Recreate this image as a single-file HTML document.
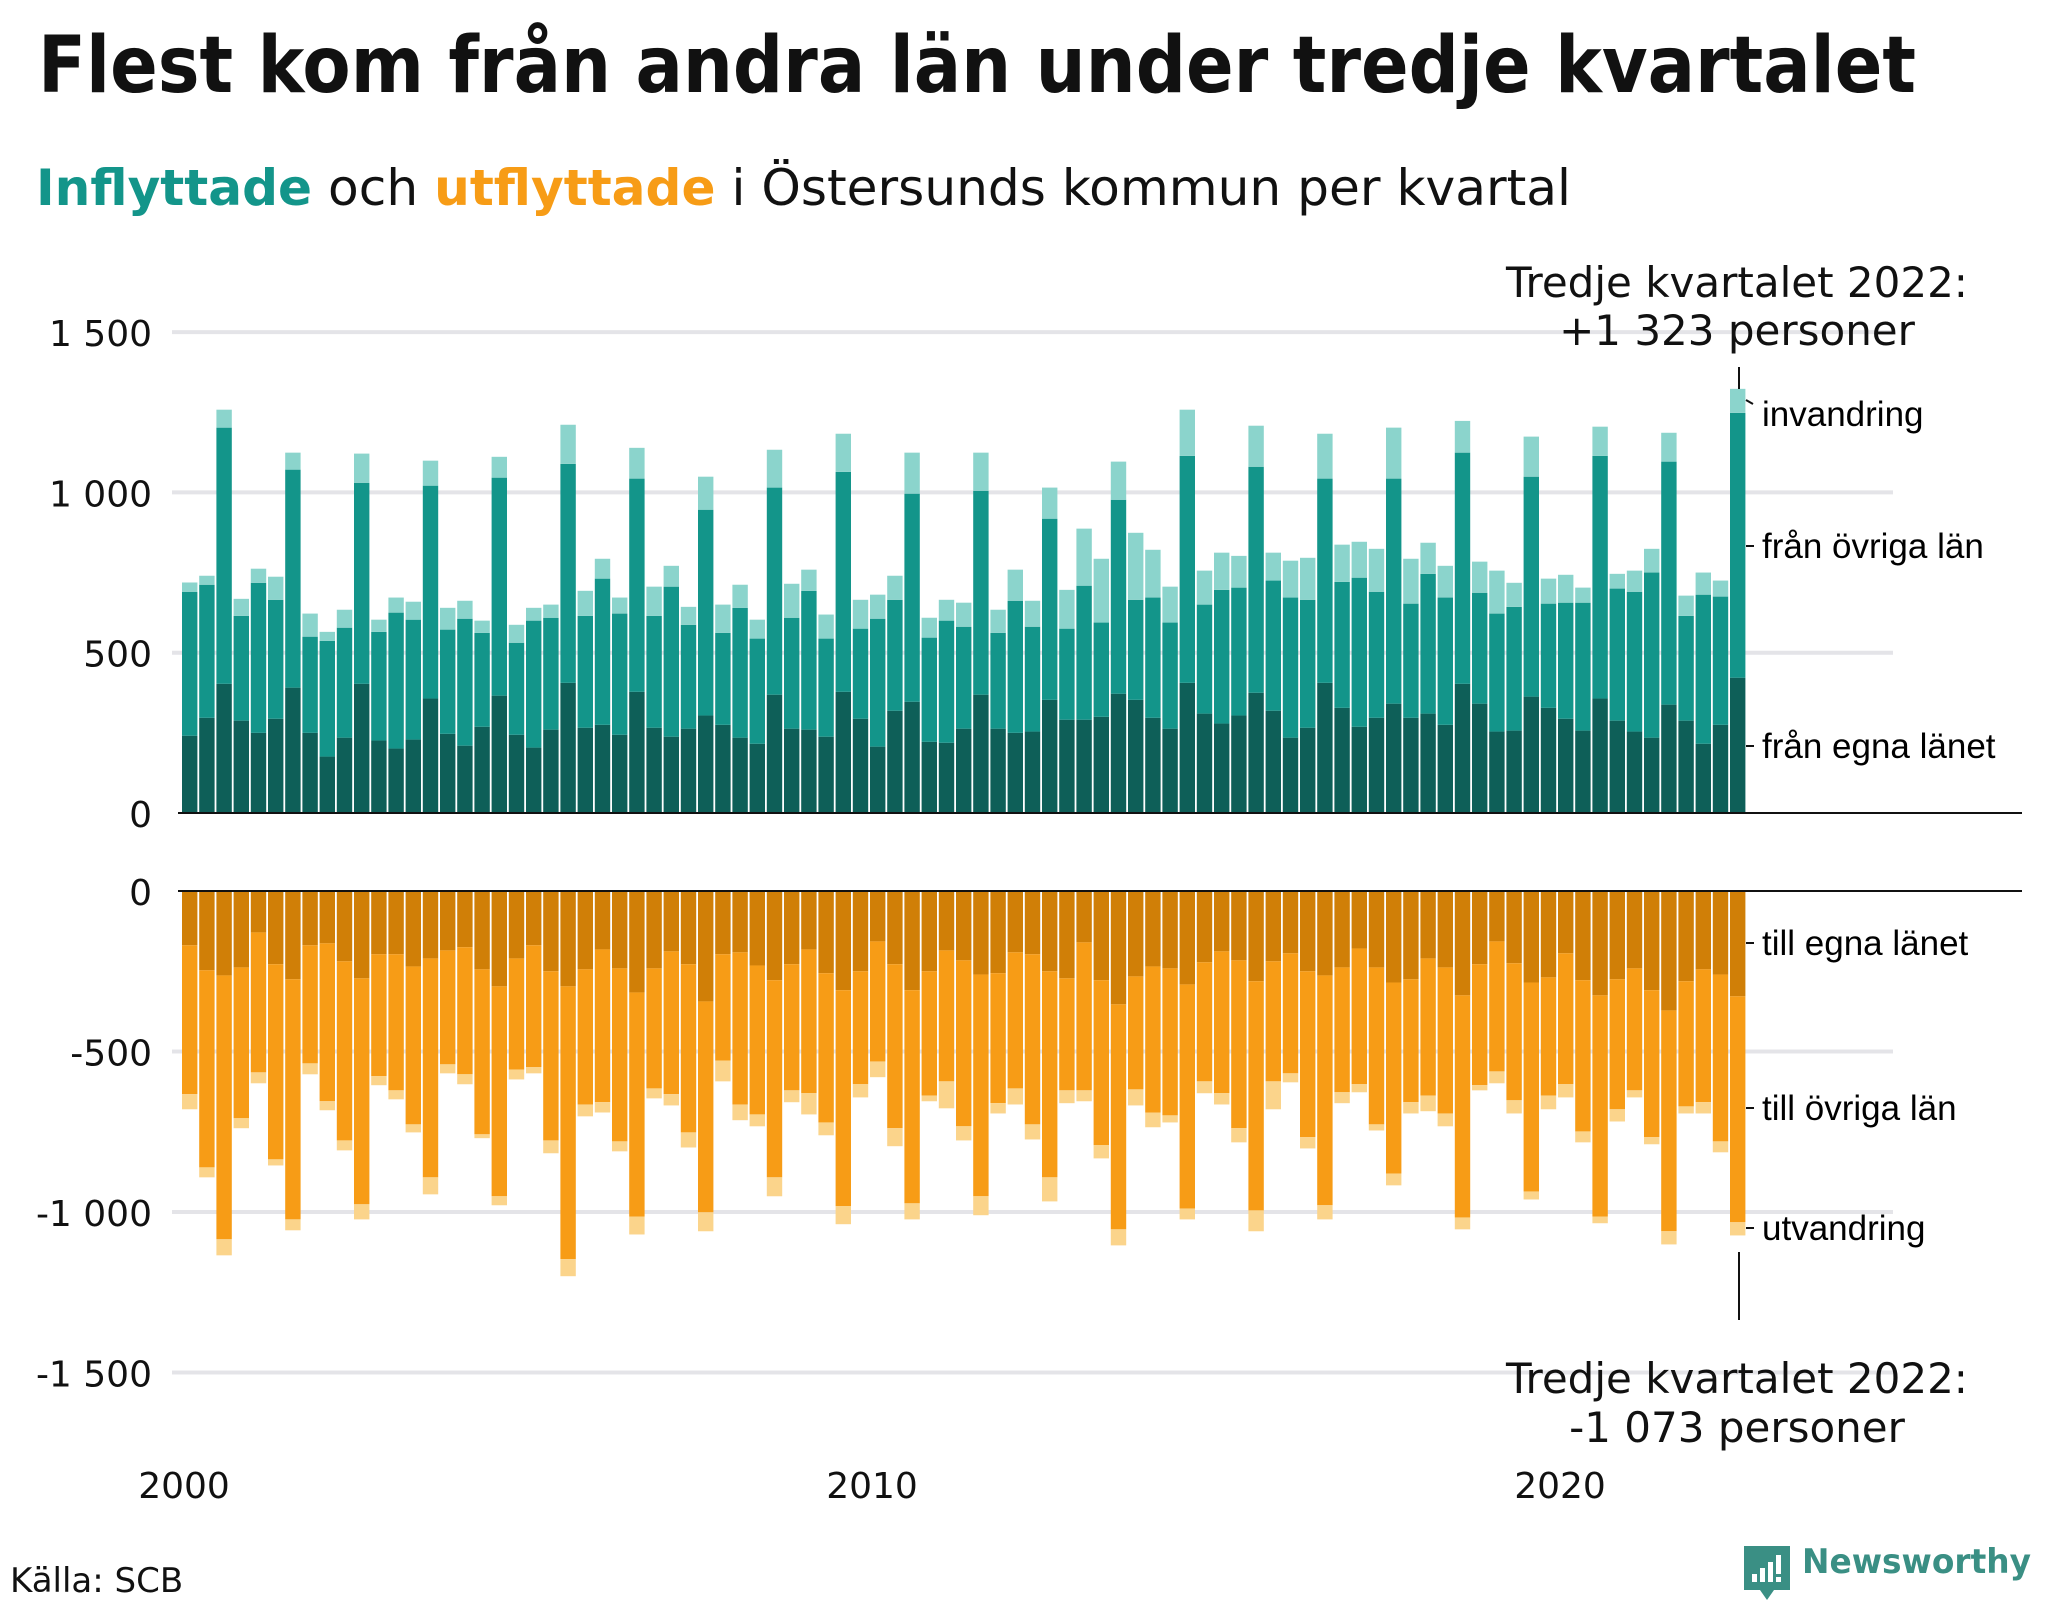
<!DOCTYPE html>
<html><head><meta charset="utf-8">
<style>
html,body{margin:0;padding:0;background:#fff;}
svg{display:block;}
text{font-family:"DejaVu Sans","Liberation Sans",sans-serif;}
.lab{font-family:"Liberation Sans",Arial,sans-serif;font-size:35px;fill:#000;}
</style></head>
<body>
<svg id="chart" width="2048" height="1600" viewBox="0 0 2048 1600" xmlns="http://www.w3.org/2000/svg">
  <text x="38" y="92" font-size="78" font-weight="bold" fill="#111" textLength="1878" lengthAdjust="spacingAndGlyphs">Flest kom från andra län under tredje kvartalet</text>
  <text x="36" y="205" font-size="50" textLength="1535" lengthAdjust="spacingAndGlyphs"><tspan fill="#13958a" font-weight="bold">Inflyttade</tspan><tspan fill="#111"> och </tspan><tspan fill="#f79c16" font-weight="bold">utflyttade</tspan><tspan fill="#111"> i Östersunds kommun per kvartal</tspan></text>
  <g id="grid"></g>
  <g id="bars"></g>
  <g id="axes"></g>

  <text x="1737" y="297" font-size="42" text-anchor="middle" fill="#111">Tredje kvartalet 2022:</text>
  <text x="1737" y="345" font-size="42" text-anchor="middle" fill="#111">+1 323 personer</text>
  <line x1="1739" y1="367" x2="1739" y2="389" stroke="#111" stroke-width="2"/>
  <text x="1737" y="1393" font-size="42" text-anchor="middle" fill="#111">Tredje kvartalet 2022:</text>
  <text x="1737" y="1442" font-size="42" text-anchor="middle" fill="#111">-1 073 personer</text>
  <line x1="1739" y1="1252" x2="1739" y2="1320" stroke="#111" stroke-width="2"/>

  <path d="M1746 400 L1753 404" stroke="#111" stroke-width="2"/>
  <text class="lab" x="1762" y="426">invandring</text>
  <line x1="1746" y1="546" x2="1754" y2="546" stroke="#111" stroke-width="2"/>
  <text class="lab" x="1762" y="558">från övriga län</text>
  <line x1="1746" y1="746" x2="1754" y2="746" stroke="#111" stroke-width="2"/>
  <text class="lab" x="1762" y="758">från egna länet</text>
  <line x1="1746" y1="943" x2="1754" y2="943" stroke="#111" stroke-width="2"/>
  <text class="lab" x="1762" y="955">till egna länet</text>
  <line x1="1746" y1="1108" x2="1754" y2="1108" stroke="#111" stroke-width="2"/>
  <text class="lab" x="1762" y="1120">till övriga län</text>
  <line x1="1746" y1="1228" x2="1754" y2="1228" stroke="#111" stroke-width="2"/>
  <text class="lab" x="1762" y="1240">utvandring</text>

  <text x="10" y="1592" font-size="34" fill="#111">Källa: SCB</text>
  <g>
    <path d="M1744 1546 h46 v44 h-16 l-7 10 l-7 -10 h-16 z" fill="#3a8f84"/>
    <rect x="1752" y="1574" width="5" height="8" fill="#fff"/>
    <rect x="1760" y="1568" width="5" height="14" fill="#fff"/>
    <rect x="1768" y="1562" width="5" height="20" fill="#fff"/>
    <rect x="1776" y="1555" width="5" height="19" fill="#fff"/>
    <rect x="1776" y="1577" width="5" height="5" fill="#fff"/>
    <text x="1802" y="1573" font-size="34" font-weight="bold" fill="#3a8f84" textLength="229" lengthAdjust="spacingAndGlyphs" font-family="Liberation Sans, sans-serif">Newsworthy</text>
  </g>
</svg>
<script>
const categories = [];
for (let y = 2000; y <= 2022; y++) for (let q = 1; q <= 4; q++) if (!(y === 2022 && q === 4)) categories.push(y + "Q" + q);
const inEgna = [241,297,403,288,250,294,391,250,176,235,403,226,201,229,357,247,210,269,366,244,204,260,406,266,275,244,378,266,238,263,304,275,235,216,369,263,260,238,378,294,207,319,347,222,219,263,369,263,250,254,353,291,291,300,372,353,297,263,406,310,279,304,375,319,235,266,406,328,269,297,341,297,310,275,403,341,254,257,363,328,294,257,357,288,254,235,338,288,216,275,422];
const inOvriga = [449,415,799,327,468,371,680,300,361,343,627,339,424,374,664,325,396,293,680,287,396,349,683,349,456,378,665,349,468,324,642,287,405,328,646,346,433,306,686,281,399,346,649,325,381,318,636,299,412,327,565,284,418,294,605,312,375,331,708,340,417,399,705,406,437,399,637,393,465,393,702,356,436,397,721,346,368,386,686,325,362,399,757,412,436,515,758,327,465,400,826];
const inInvandring = [29,28,56,53,44,72,53,72,28,56,91,38,47,56,78,68,56,38,65,56,40,41,122,78,62,50,96,91,65,56,103,88,72,59,118,106,66,75,119,90,75,75,128,62,65,75,119,72,97,81,97,121,178,199,119,209,149,112,144,106,116,99,128,87,115,131,140,116,112,134,159,140,97,99,99,97,134,75,125,78,87,47,91,46,66,74,90,63,69,50,75];
const utEgna = [169,247,263,238,129,228,275,169,163,219,272,197,197,235,210,185,175,244,297,210,169,250,297,244,182,241,316,241,188,228,344,197,191,232,278,228,182,256,309,250,157,228,309,250,185,216,260,256,191,197,250,272,160,278,353,266,235,241,291,222,188,216,281,219,194,250,263,238,179,238,285,275,210,238,325,228,157,225,285,269,194,278,325,275,241,309,372,281,244,260,328];
const utOvriga = [464,614,822,470,436,608,748,368,492,558,704,380,424,492,682,355,396,514,654,346,380,527,850,421,476,539,698,374,445,524,657,331,474,464,614,393,448,465,673,352,374,511,664,387,408,517,691,405,424,530,642,349,461,514,701,352,455,458,698,371,442,523,714,374,374,517,716,389,423,489,595,383,427,455,692,377,405,427,651,368,408,471,689,405,380,458,688,390,414,520,704];
const utUtvandring = [47,31,50,31,34,19,34,34,28,31,47,28,28,25,53,28,31,12,28,31,19,40,53,37,32,31,56,31,35,47,59,65,49,37,59,37,66,40,56,41,49,56,50,18,84,44,59,32,50,47,75,40,34,41,50,50,46,22,34,37,35,44,65,87,28,35,44,34,25,19,37,35,49,40,37,16,37,41,25,43,41,34,21,38,22,22,41,22,35,34,41];
const yTicksTop = [0, 500, 1000, 1500];
const yTickLabelsTop = ["0", "500", "1 000", "1 500"];
const yTicksBottom = [0, -500, -1000, -1500];
const yTickLabelsBottom = ["0", "-500", "-1 000", "-1 500"];
const xTickIndex = [0, 40, 80];
const xTickLabels = ["2000", "2010", "2020"];

const NS = "http://www.w3.org/2000/svg";
const X0 = 182, STEP = 17.2, BW = 15.4;
const xScale = i => X0 + i * STEP;
const yTop = v => 813 - v * 0.3206;
const yBot = v => 891 - v * 0.321;
function mk(tag, attrs, parent) {
  const el = document.createElementNS(NS, tag);
  for (const k in attrs) el.setAttribute(k, attrs[k]);
  parent.appendChild(el);
  return el;
}
const grid = document.getElementById("grid");
const bars = document.getElementById("bars");
const axes = document.getElementById("axes");

yTicksTop.forEach((v, i) => {
  if (v !== 0) {
    const l = mk("line", {x1: 172, x2: 1893, y1: yTop(v), y2: yTop(v), stroke: "#e4e4e8", "stroke-width": 4}, grid);
    
    
  }
  const t = mk("text", {x: 152, y: yTop(v) + 14, "font-size": 36, "text-anchor": "end", fill: "#111"}, axes);
  t.textContent = yTickLabelsTop[i];
  
  
});
yTicksBottom.forEach((v, i) => {
  if (v !== 0) {
    const l = mk("line", {x1: 172, x2: 1893, y1: yBot(v), y2: yBot(v), stroke: "#e4e4e8", "stroke-width": 4}, grid);
    
    
  }
  const t = mk("text", {x: 152, y: yBot(v) + 14, "font-size": 36, "text-anchor": "end", fill: "#111"}, axes);
  t.textContent = yTickLabelsBottom[i];
  
  
});
xTickIndex.forEach((idx, i) => {
  const t = mk("text", {x: xScale(idx) + 2, y: 1498, "font-size": 36, "text-anchor": "middle", fill: "#111"}, axes);
  t.textContent = xTickLabels[i];
  
  
});

categories.forEach((c, i) => {
  const x = xScale(i);
  const a = inEgna[i], b = a + inOvriga[i], tot = b + inInvandring[i];
  const r1 = mk("rect", {x: x, width: BW, y: yTop(a), height: yTop(0) - yTop(a), fill: "#0e5f58"}, bars);
  
  
  const r2 = mk("rect", {x: x, width: BW, y: yTop(b), height: yTop(a) - yTop(b), fill: "#13958a"}, bars);
  
  
  const r3 = mk("rect", {x: x, width: BW, y: yTop(tot), height: yTop(b) - yTop(tot), fill: "#8bd4cc"}, bars);
  
  

  const d = utEgna[i], e = d + utOvriga[i], f = e + utUtvandring[i];
  const s1 = mk("rect", {x: x, width: BW, y: yBot(0), height: yBot(-d) - yBot(0), fill: "#d07f07"}, bars);
  
  
  const s2 = mk("rect", {x: x, width: BW, y: yBot(-d), height: yBot(-e) - yBot(-d), fill: "#f79c16"}, bars);
  
  
  const s3 = mk("rect", {x: x, width: BW, y: yBot(-e), height: yBot(-f) - yBot(-e), fill: "#fbd48b"}, bars);
  
  
});

const z1 = mk("line", {x1: 178, x2: 2022, y1: yTop(0), y2: yTop(0), stroke: "#111", "stroke-width": 2}, axes);


const z2 = mk("line", {x1: 178, x2: 2022, y1: yBot(0), y2: yBot(0), stroke: "#111", "stroke-width": 2}, axes);


</script>
</body></html>
